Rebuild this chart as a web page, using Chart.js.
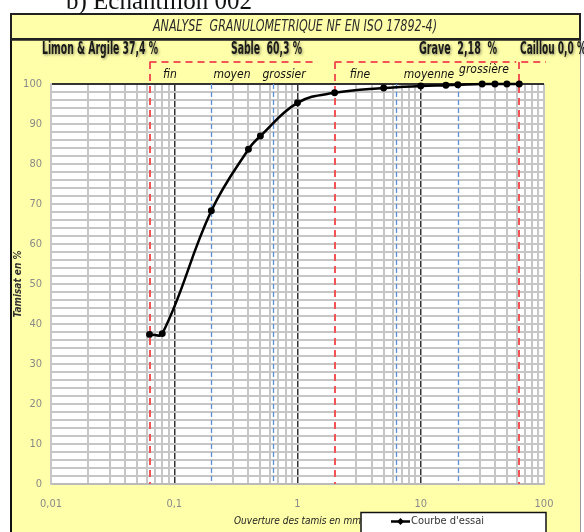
<!DOCTYPE html>
<html><head><meta charset="utf-8">
<script src="https://cdn.jsdelivr.net/npm/chart.js@4"></script>
<style>html,body{margin:0;padding:0;background:#fff}#c{display:block}</style>
</head><body>
<canvas id="c" width="584" height="532"></canvas>
<script>
// ---- data ----
const sieveSizes  = [0.063, 0.08, 0.2, 0.4, 0.5, 1, 2, 5, 10, 16, 20, 31.5, 40, 50, 63];
const passingPct  = [37.4, 37.6, 68.3, 83.7, 87.0, 95.3, 97.8, 99.0, 99.5, 99.7, 99.8, 100, 100, 100, 100];
const xTickLabels = [0.01, 0.1, 1, 10, 100];
const xGridValues = [0.01,0.02,0.03,0.04,0.05,0.06,0.07,0.08,0.09,0.1,0.2,0.3,0.4,0.5,0.6,0.7,0.8,0.9,1,2,3,4,5,6,7,8,9,10,20,30,40,50,60,70,80,90,100];
const yTickLabels = [0, 10, 20, 30, 40, 50, 60, 70, 80, 90, 100];
const redLimits   = [0.063, 2, 63];
const blueLimits  = [0.2, 0.63, 6.3, 20];
const blackLines  = [0.1, 1, 10];
const chartTitle  = 'ANALYSE  GRANULOMETRIQUE NF EN ISO 17892-4)';
const pageTitle   = 'b) Echantillon 002';
const fractionTitles = ['Limon & Argile 37,4 %', 'Sable  60,3 %', 'Grave  2,18  %', 'Caillou 0,0 %'];
const subFractions = ['fin', 'moyen', 'grossier', 'fine', 'moyenne', 'grossière'];
const seriesLabel = "Courbe d'essai";
const xAxisTitle = 'Ouverture des tamis en mm';
const yAxisTitle = 'Tamisat en %';

const NARROW = '"Liberation Sans Narrow", "DejaVu Sans Condensed", "Liberation Sans", sans-serif';
const YELLOW = '#FFFFAA';

const deco = {
  id: 'deco',
  beforeDraw(chart) {
    const c = chart.ctx, a = chart.chartArea;
    c.save();
    c.fillStyle = '#fff'; c.fillRect(0, 0, 584, 532);
    c.fillStyle = YELLOW; c.fillRect(10, 13, 571, 519);
    c.fillStyle = '#fff'; c.fillRect(a.left, a.top, a.right - a.left, a.bottom - a.top);
    // frame
    c.strokeStyle = '#111'; c.lineWidth = 2;
    c.beginPath(); c.moveTo(11, 13); c.lineTo(11, 532); c.stroke();
    c.strokeStyle = '#999'; c.lineWidth = 1;
    c.beginPath(); c.moveTo(580.5, 13); c.lineTo(580.5, 532); c.stroke();
    // title box
    c.strokeStyle = '#222'; c.lineWidth = 2;
    c.strokeRect(11, 14, 569, 25);
    c.lineWidth = 2.5;
    c.beginPath(); c.moveTo(10, 39.5); c.lineTo(581, 39.5); c.stroke();
    // page title
    c.fillStyle = '#111';
    c.font = '25px "Liberation Serif", "Times New Roman", serif';
    c.textBaseline = 'alphabetic'; c.textAlign = 'left';
    c.fillText(pageTitle, 66, 9);
    // chart title
    c.font = 'italic 15px ' + NARROW;
    c.fillStyle = '#2a2a2a'; c.textAlign = 'center'; c.textBaseline = 'middle';
    c.fillText(chartTitle, 295, 27, 284);
    // fraction titles
    c.font = 'bold 17px ' + NARROW;
    c.fillStyle = '#1a1a1a';
    c.shadowColor = 'rgba(0,0,0,0.45)'; c.shadowBlur = 3; c.shadowOffsetX = 1; c.shadowOffsetY = 1;
    c.textAlign = 'left';
    const fx = [42, 231, 419, 520], fw = [116, 71, 78, 66];
    fractionTitles.forEach((t, i) => c.fillText(t, fx[i], 50, fw[i]));
    c.shadowColor = 'transparent'; c.shadowBlur = 0; c.shadowOffsetX = 0; c.shadowOffsetY = 0;
    // sub fractions
    c.font = 'italic 12px ' + NARROW;
    c.textAlign = 'center'; c.fillStyle = '#111';
    const sx = [170, 232, 284, 360, 429, 484], sy = [75, 75, 75, 75, 75, 70];
    subFractions.forEach((t, i) => c.fillText(t, sx[i], sy[i]));
    c.restore();
  },
  beforeDatasetsDraw(chart) {
    const c = chart.ctx, a = chart.chartArea, xs = chart.scales.x;
    c.save();
    // blue dashed limits
    c.strokeStyle = '#5a8fd6'; c.lineWidth = 1.3; c.setLineDash([5, 3]);
    blueLimits.forEach(v => {
      const x = Math.round(xs.getPixelForValue(v)) + 0.5;
      c.beginPath(); c.moveTo(x, a.top); c.lineTo(x, a.bottom); c.stroke();
    });
    // red dashed limits
    c.strokeStyle = '#f25555'; c.lineWidth = 2; c.setLineDash([7, 5]);
    redLimits.forEach(v => {
      const x = Math.round(xs.getPixelForValue(v));
      c.beginPath(); c.moveTo(x, 62); c.lineTo(x, a.bottom); c.stroke();
    });
    // red brackets above the plot
    const r0 = xs.getPixelForValue(redLimits[0]), r1 = xs.getPixelForValue(redLimits[1]), r2 = xs.getPixelForValue(redLimits[2]);
    c.beginPath();
    c.moveTo(r0, 62); c.lineTo(r1 - 17, 62);
    c.moveTo(r1, 62); c.lineTo(r2 - 3, 62);
    c.moveTo(r2 + 2, 62); c.lineTo(546, 62);
    c.stroke();
    c.restore();
  },
  afterDraw(chart) {
    const c = chart.ctx;
    c.save();
    // legend box
    c.fillStyle = '#fff'; c.fillRect(361, 512, 185, 24);
    c.strokeStyle = '#111'; c.lineWidth = 1.5; c.strokeRect(361, 512.5, 185, 24);
    c.strokeStyle = '#000'; c.lineWidth = 2.5;
    c.beginPath(); c.moveTo(391, 521.5); c.lineTo(410, 521.5); c.stroke();
    c.fillStyle = '#000';
    c.beginPath(); c.moveTo(400.5, 518); c.lineTo(404, 521.5); c.lineTo(400.5, 525); c.lineTo(397, 521.5); c.closePath(); c.fill();
    c.font = '11px ' + NARROW; c.fillStyle = '#333';
    c.textAlign = 'left'; c.textBaseline = 'middle';
    c.fillText(seriesLabel, 411, 521);
    c.restore();
  }
};

function gridColorX(ctx) {
  const v = ctx.tick && ctx.tick.value;
  if (blackLines.some(b => Math.abs(b - v) < 1e-9)) return '#333';
  if (redLimits.concat(blueLimits).some(b => Math.abs(b - v) < 1e-9)) return 'rgba(0,0,0,0)';
  return '#c6c6c6';
}

new Chart(document.getElementById('c'), {
  type: 'line',
  data: {
    datasets: [{
      label: seriesLabel,
      data: sieveSizes.map((s, i) => ({ x: s, y: passingPct[i] })),
      borderColor: '#000', backgroundColor: '#000',
      borderWidth: 2.5, pointRadius: 2.2, pointHoverRadius: 2.2,
      pointStyle: 'circle', tension: 0.4, fill: false, clip: false
    }]
  },
  options: {
    responsive: false, animation: false, devicePixelRatio: 1,
    layout: { padding: { left: 0, right: 40, top: 84, bottom: 0 } },
    plugins: { legend: { display: false }, tooltip: { enabled: false } },
    scales: {
      x: {
        type: 'logarithmic', min: 0.01, max: 100,
        afterBuildTicks: s => { s.ticks = xGridValues.map(v => ({ value: v })); },
        afterFit: s => { s.height = 48; },
        grid: { color: gridColorX, lineWidth: ctx => (blackLines.includes(ctx.tick && ctx.tick.value) ? 1.5 : 2), drawTicks: false },
        border: { display: true, color: '#bbb', width: 2 },
        ticks: {
          autoSkip: false, maxRotation: 0, padding: 14,
          color: '#8a8a8a', font: { family: NARROW, size: 11 },
          callback: v => xTickLabels.some(t => Math.abs(t - v) < 1e-9) ? String(v).replace('.', ',') : ''
        },
        title: { display: true, text: xAxisTitle, color: '#222', font: { family: NARROW, size: 10, style: 'italic' }, padding: { top: 0, bottom: 5 } }
      },
      y: {
        type: 'linear', min: 0, max: 100,
        afterFit: s => { s.width = 51; },
        grid: { color: ctx => (ctx.tick && ctx.tick.value === 100 ? '#333' : '#c6c6c6'), lineWidth: 2, drawTicks: false },
        border: { display: true, color: '#c6c6c6', width: 2 },
        ticks: {
          stepSize: 2, autoSkip: false, padding: 9,
          color: '#8a8a8a', font: { family: NARROW, size: 11 },
          callback: v => yTickLabels.includes(v) ? String(v) : ''
        },
        title: { display: true, text: yAxisTitle, color: '#333', font: { family: NARROW, size: 10, style: 'italic', weight: 'bold' }, padding: { top: 12, bottom: 0 } }
      }
    }
  },
  plugins: [deco]
});
</script>
</body></html>
